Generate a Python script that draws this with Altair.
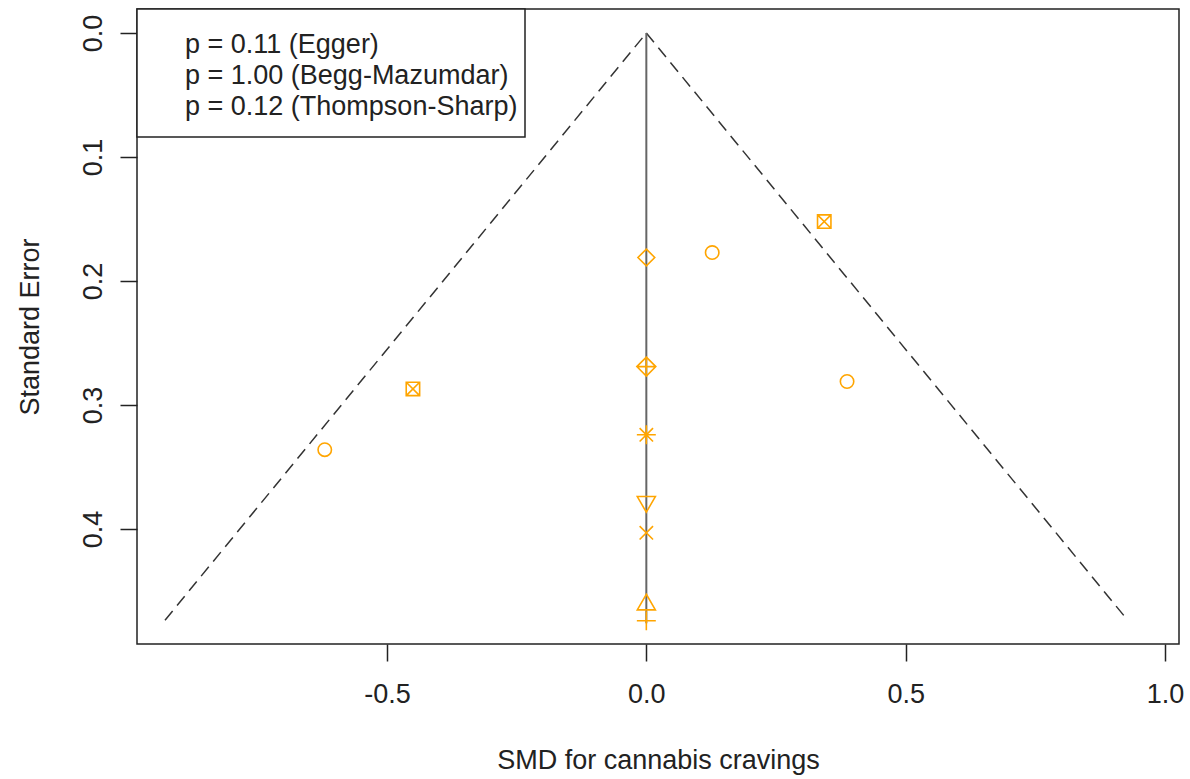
import altair as alt
import pandas as pd

# ---- data ----
smd = [0.343, 0.127, 0.0, 0.0, 0.387, -0.45, -0.62, 0.0, 0.0, 0.0, 0.0, 0.0]
se = [0.152, 0.177, 0.181, 0.269, 0.281, 0.287, 0.336, 0.324, 0.378, 0.403, 0.461, 0.474]
sym = ["sqx", "circle", "diamond", "diamondplus", "circle", "sqx", "circle",
       "asterisk", "tridown", "cross", "triup", "plus"]

funnel_x = [-0.928, 0.0, 0.928]
funnel_se = [0.4735, 0.0, 0.4735]

center_x = [0.0, 0.0]
center_se = [0.0, 0.476]

legend_lines = ["p = 0.11 (Egger)", "p = 1.00 (Begg-Mazumdar)", "p = 0.12 (Thompson-Sharp)"]

x_ticks = [-0.5, 0.0, 0.5, 1.0]
y_ticks = [0.0, 0.1, 0.2, 0.3, 0.4]

shape_names = ["circle", "sqx", "diamond", "diamondplus", "asterisk", "tridown", "cross", "triup", "plus"]
shape_paths = [
    "circle",
    "M-1,-1L1,-1L1,1L-1,1Z M-1,-1L1,1 M-1,1L1,-1",
    "M0,-1.253L1.253,0L0,1.253L-1.253,0Z",
    "M0,-1.414L1.414,0L0,1.414L-1.414,0Z M-1.414,0L1.414,0 M0,-1.414L0,1.414",
    "M-1,-1L1,1 M-1,1L1,-1 M-1.414,0L1.414,0 M0,-1.414L0,1.414",
    "M0,1.555L1.347,-0.778L-1.347,-0.778Z",
    "M-1,-1L1,1 M-1,1L1,-1",
    "M0,-1.555L1.347,0.778L-1.347,0.778Z",
    "M-1.414,0L1.414,0 M0,-1.414L0,1.414",
]

FONT = "Liberation Sans"
FS = 27
W, H = 1042, 635

pts = pd.DataFrame({"smd": smd, "se": se, "sym": sym})
fun = pd.DataFrame({"smd": [funnel_x[0], funnel_x[1], funnel_x[1], funnel_x[2]],
                    "se": [funnel_se[0], funnel_se[1], funnel_se[1], funnel_se[2]],
                    "side": ["L", "L", "R", "R"],
                    "ord": [0, 1, 0, 1]})
cen = pd.DataFrame({"smd": center_x, "se": center_se})

xscale = alt.Scale(domain=[-0.982, 1.027], nice=False, zero=False)
yscale = alt.Scale(domain=[-0.0194, 0.4927], nice=False, zero=False, reverse=True)

lab_expr = "datum.value < 0 ? '-' + format(-datum.value, '.1f') : format(datum.value, '.1f')"

xaxis = alt.Axis(values=x_ticks, labelExpr=lab_expr, title="SMD for cannabis cravings",
                 tickSize=17, labelPadding=20, labelBaseline="top",
                 titleX=W / 2, titleY=116, titleBaseline="middle", titleAlign="center")
yaxis = alt.Axis(values=y_ticks, labelExpr=lab_expr, title="Standard Error",
                 tickSize=17, labelPadding=13, labelAngle=270, labelAlign="center",
                 labelBaseline="bottom", titleAngle=270, titleX=-107, titleY=H / 2,
                 titleBaseline="middle", titleAlign="center")

funnel = alt.Chart(fun).mark_line(color="#333333", strokeWidth=1.5, strokeDash=[12, 7]).encode(
    x=alt.X("smd:Q", scale=xscale, axis=xaxis),
    y=alt.Y("se:Q", scale=yscale, axis=yaxis),
    detail="side:N", order="ord:Q")

center = alt.Chart(cen).mark_line(color="#666666", strokeWidth=2).encode(
    x=alt.X("smd:Q", scale=xscale), y=alt.Y("se:Q", scale=yscale))

points = alt.Chart(pts).mark_point(filled=False, stroke="#FFA500", strokeWidth=1.6, size=180, opacity=1).encode(
    x=alt.X("smd:Q", scale=xscale), y=alt.Y("se:Q", scale=yscale),
    shape=alt.Shape("sym:N", scale=alt.Scale(domain=shape_names, range=shape_paths), legend=None))

box = alt.Chart(pd.DataFrame({"a": [0]})).mark_rect(fill="white", stroke="#222222", strokeWidth=1.5).encode(
    x=alt.value(0), x2=alt.value(388), y=alt.value(0), y2=alt.value(128))

leg_y = [44, 75, 106]
leg_layers = []
for line, yy in zip(legend_lines, leg_y):
    leg_layers.append(
        alt.Chart(pd.DataFrame({"t": [line]})).mark_text(
            align="left", baseline="alphabetic", font=FONT, fontSize=FS, color="#222222"
        ).encode(x=alt.value(48), y=alt.value(yy), text="t:N")
    )

chart = alt.layer(funnel, center, points, box, *leg_layers).properties(
    width=W, height=H,
    autosize=alt.AutoSizeParams(type="none"),
    padding={"left": 137, "top": 9, "right": 11, "bottom": 135},
    background="white",
).configure_view(stroke="#222222", strokeWidth=1.5).configure_axis(
    grid=False, domain=False, tickColor="#222222", tickWidth=1.5,
    labelFont=FONT, labelFontSize=FS, labelColor="#222222",
    titleFont=FONT, titleFontSize=FS, titleFontWeight="normal", titleColor="#222222",
)

chart.save("out.html", embed_options={"renderer": "svg", "actions": False})
